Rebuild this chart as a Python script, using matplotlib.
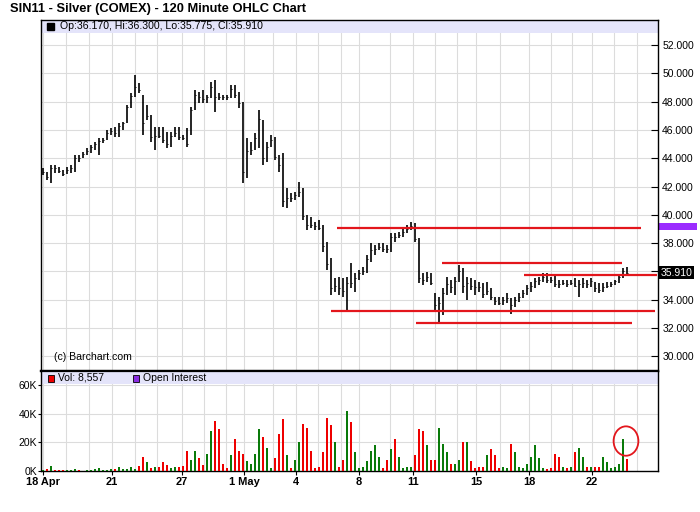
import numpy as np
import matplotlib
matplotlib.use('Agg')
import matplotlib.pyplot as plt
from matplotlib.patches import Rectangle, Ellipse

plt.rcParams['font.family'] = ['Liberation Sans', 'DejaVu Sans']

# --- 4-hour-ish OHLC bars (silver, SIN11) ---
highs = [
    43.28, 43.05, 43.52, 43.52, 43.40, 43.17, 43.40, 43.52, 44.23, 44.23,
    44.46, 44.70, 44.93, 45.17, 45.40, 45.40, 45.99, 46.11, 46.23, 46.47,
    46.58, 47.76, 48.59, 49.88, 49.29, 48.47, 47.76, 47.05, 46.23, 46.23,
    46.23, 45.88, 45.88, 46.23, 46.23, 45.64, 46.11, 47.64, 48.82, 48.70,
    48.82, 48.47, 49.41, 49.53, 48.58, 48.47, 48.47, 49.17, 49.17, 48.70,
    48.00, 45.40, 45.17, 45.76, 47.41, 46.70, 45.17, 45.64, 45.52, 44.23,
    44.34, 41.87, 41.52, 41.63, 42.34, 41.87, 39.99, 39.87, 39.51, 39.63,
    39.28, 38.10, 36.92, 35.51, 35.63, 35.51, 35.63, 36.57, 35.86, 36.10,
    36.33, 37.16, 37.98, 37.87, 37.98, 37.98, 37.87, 38.69, 38.69, 38.81,
    39.04, 39.28, 39.52, 39.40, 38.34, 35.86, 35.98, 35.86, 34.45, 34.22,
    34.80, 35.63, 35.39, 35.63, 36.45, 36.22, 35.63, 35.51, 35.39, 35.27,
    35.16, 35.27, 34.80, 34.21, 34.21, 34.21, 34.45, 34.10, 34.21, 34.45,
    34.69, 35.04, 35.27, 35.51, 35.63, 35.86, 35.86, 35.63, 35.75, 35.39,
    35.39, 35.39, 35.39, 35.51, 35.39, 35.51, 35.39, 35.51, 35.27, 35.16,
    35.16, 35.27, 35.27, 35.39, 35.75, 36.22, 36.30]
lows = [
    42.81, 42.46, 42.22, 42.93, 42.93, 42.77, 42.86, 42.93, 43.05, 43.75,
    43.99, 44.23, 44.34, 44.58, 44.23, 45.05, 45.29, 45.64, 45.52, 45.52,
    45.99, 46.47, 47.52, 48.35, 48.59, 45.64, 46.70, 45.17, 44.58, 45.40,
    45.05, 44.70, 44.82, 45.52, 45.29, 45.29, 44.82, 45.64, 47.41, 47.88,
    47.88, 47.88, 48.23, 47.29, 48.11, 48.11, 48.11, 48.23, 48.23, 47.52,
    42.22, 42.58, 44.23, 44.58, 44.70, 43.52, 43.76, 44.82, 43.87, 43.05,
    40.58, 40.46, 40.93, 41.05, 41.28, 39.63, 38.93, 39.04, 38.93, 38.93,
    37.39, 36.10, 34.33, 34.57, 34.33, 34.22, 33.15, 34.80, 34.57, 35.39,
    35.75, 35.86, 36.69, 37.16, 37.51, 37.39, 37.28, 37.39, 38.10, 38.34,
    38.45, 38.69, 38.93, 38.10, 35.16, 35.04, 35.27, 35.04, 33.30, 32.45,
    32.90, 34.33, 34.45, 34.33, 35.27, 34.45, 33.98, 34.69, 34.33, 34.57,
    34.10, 34.33, 33.98, 33.63, 33.63, 33.63, 33.74, 33.00, 33.51, 33.86,
    34.10, 34.33, 34.57, 34.80, 35.04, 35.27, 35.16, 35.16, 34.92, 34.80,
    35.04, 34.92, 35.04, 34.92, 34.21, 34.80, 34.80, 34.92, 34.57, 34.45,
    34.57, 34.80, 34.92, 35.04, 35.16, 35.51, 35.775]
closes = [
    43.0, 42.7, 43.3, 43.3, 43.1, 42.9, 43.2, 43.3, 44.0, 44.0,
    44.3, 44.5, 44.8, 45.0, 45.2, 45.3, 45.8, 45.9, 45.8, 46.3,
    46.5, 47.6, 48.4, 49.0, 48.8, 46.5, 47.0, 45.5, 45.6, 45.6,
    45.3, 45.0, 45.6, 45.8, 45.5, 45.4, 45.0, 47.4, 48.5, 48.3,
    48.2, 48.3, 49.0, 48.3, 48.3, 48.3, 48.3, 48.9, 48.5, 47.9,
    43.0, 44.5, 44.6, 45.4, 46.8, 44.0, 44.8, 45.3, 44.1, 43.5,
    41.0, 41.2, 41.2, 41.4, 41.6, 39.9, 39.3, 39.3, 39.2, 39.1,
    37.8, 36.5, 34.8, 35.0, 34.8, 34.6, 35.2, 35.2, 35.5, 35.9,
    36.0, 36.9, 37.5, 37.6, 37.7, 37.6, 37.6, 38.4, 38.4, 38.6,
    38.8, 39.0, 39.2, 38.3, 35.5, 35.4, 35.6, 35.2, 33.6, 33.8,
    34.5, 35.1, 34.9, 35.3, 36.0, 35.0, 35.2, 35.0, 34.9, 34.9,
    34.4, 34.6, 34.2, 33.9, 33.8, 34.0, 34.1, 33.6, 34.0, 34.2,
    34.5, 34.8, 35.0, 35.3, 35.4, 35.6, 35.4, 35.4, 35.1, 35.1,
    35.2, 35.1, 35.2, 35.0, 35.1, 35.2, 35.1, 35.3, 34.8, 34.7,
    34.9, 35.0, 35.1, 35.3, 35.6, 36.0, 35.91]
# volume in thousands of contracts
volume_k = [
    1.0, 1.5, 3.5, 1.0, 0.5, 0.5, 0.5, 1.0, 1.2, 0.8,
    0.3, 0.5, 1.0, 1.5, 2.0, 0.8, 1.0, 1.2, 1.5, 3.0,
    1.5, 1.2, 3.0, 1.5, 3.5, 10.0, 6.0, 2.0, 2.5, 3.0,
    6.0, 4.0, 2.0, 2.5, 3.0, 3.5, 14.0, 8.0, 14.0, 9.0,
    4.0, 12.0, 28.0, 35.0, 29.0, 5.0, 2.0, 11.0, 22.0, 14.0,
    12.0, 7.0, 5.0, 12.0, 29.0, 24.0, 16.0, 2.0, 9.0, 26.0,
    36.0, 11.0, 2.0, 8.0, 20.0, 33.0, 30.0, 14.0, 2.0, 2.5,
    13.0, 37.0, 32.0, 20.0, 3.0, 8.0, 42.0, 34.0, 13.0, 2.0,
    2.5, 7.0, 14.0, 18.0, 10.0, 2.0, 8.0, 15.0, 22.0, 10.0,
    2.0, 2.5, 3.0, 11.0, 29.0, 28.0, 18.0, 8.0, 8.0, 30.0,
    19.0, 13.0, 5.0, 5.0, 8.0, 20.0, 20.0, 7.0, 2.0, 3.0,
    3.0, 11.0, 15.0, 11.0, 2.0, 3.0, 2.0, 19.0, 13.0, 3.0,
    2.0, 5.0, 10.0, 18.0, 9.0, 2.0, 1.5, 2.0, 12.0, 10.0,
    3.0, 2.0, 3.0, 13.0, 16.0, 10.0, 3.0, 2.5, 3.0, 3.0,
    10.0, 6.0, 2.0, 2.5, 5.0, 22.0, 8.557]

# session grid lines (bar index) and date labels
day_lines = [0.07, 5.8, 11.6, 17.3, 23.1, 28.6, 34.8, 40.3, 45.8, 50.3,
             57.6, 63.3, 68.8, 74.6, 79.1, 86.8, 92.6, 98.1, 103.6, 108.3,
             114.3, 121.6, 127.1, 132.3, 137.3, 142.8, 148.6]
date_pos = [0.07, 17.3, 34.8, 50.3, 63.3, 79.1, 92.6, 108.3, 121.6, 137.3]
date_labels = ['18 Apr', '21', '27', '1 May', '4', '8', '11', '15', '18', '22']

price_ticks = [30, 32, 34, 36, 38, 40, 42, 44, 46, 48, 50, 52]
vol_ticks = [0, 20, 40, 60]
vol_labels = ['0K', '20K', '40K', '60K']

# hand drawn support / resistance lines
level_price = [39.05, 36.57, 35.77, 33.22, 32.37]
level_start = [73.6, 99.8, 120.3, 72.1, 93.3]
level_end = [149.6, 144.8, 153.6, 153.1, 147.3]

last_ohlc = (36.170, 36.300, 35.775, 35.910)
last_volume = 8557
oi_level = (38.93, 39.42)

n = len(highs)
assert len(lows) == n and len(closes) == n and len(volume_k) == n
x = np.arange(n)

fig = plt.figure(figsize=(7, 5.12), dpi=100)
ax = fig.add_axes([41/700, 141/512, 617/700, 351/512])
axv = fig.add_axes([41/700, 41/512, 617/700, 100/512], sharex=ax)

grid_c = '#dcdcdc'
for d in day_lines:
    ax.axvline(d, color=grid_c, lw=0.8, zorder=0)
    axv.axvline(d, color=grid_c, lw=0.8, zorder=0)
for p in price_ticks:
    ax.axhline(p, color=grid_c, lw=0.8, zorder=0)
for v in vol_ticks[1:]:
    axv.axhline(v, color=grid_c, lw=0.8, zorder=0)

# price bars (close tick kept short, as on the original)
ax.vlines(x, lows, highs, color='black', lw=1.2, zorder=3)
ax.hlines(closes, x, x + 0.3, color='black', lw=0.7, zorder=3)

# support / resistance
ax.hlines(level_price, level_start, level_end, color='#e3161c', lw=1.6, zorder=5)

ax.set_xlim(-0.43, 153.8)
ax.set_ylim(28.96, 53.77)

# legend band
ax.add_patch(Rectangle((0, 0.963), 1, 0.037, transform=ax.transAxes,
                       fc='#e4e4fa', ec='none', zorder=1))
ax.add_patch(Rectangle((0.0097, 0.9715), 0.0113, 0.02, transform=ax.transAxes,
                       fc='black', ec='black', zorder=6))
ax.text(0.0308, 0.9815, 'Op:%.3f, Hi:%.3f, Lo:%.3f, Cl:%.3f' % last_ohlc,
        transform=ax.transAxes, fontsize=7.6, va='center', ha='left', zorder=6)
ax.text(0.021, 0.04, '(c) Barchart.com', transform=ax.transAxes,
        fontsize=7.6, va='center', ha='left')

ax.yaxis.tick_right()
ax.set_yticks(price_ticks)
ax.set_yticklabels(['' if p == 36 else '%.3f' % p for p in price_ticks])
ax.tick_params(axis='y', direction='in', length=5, labelsize=7.5, pad=3)
ax.tick_params(axis='x', bottom=False, labelbottom=False)

# last price box and open interest marker on the right scale
ax.text(1.004, last_ohlc[3], '%.3f' % last_ohlc[3], transform=ax.get_yaxis_transform(),
        fontsize=7.5, color='white', va='center', ha='left', clip_on=False,
        bbox=dict(boxstyle='square,pad=0.15', fc='black', ec='none'))
ax.add_patch(Rectangle((1.0, oi_level[0]), 0.063, oi_level[1] - oi_level[0],
                       transform=ax.get_yaxis_transform(), fc='#9b2cff', ec='none',
                       clip_on=False))

for s in ax.spines.values():
    s.set_linewidth(1.0)
ax.spines['bottom'].set_linewidth(1.6)

# volume
vol_colors = ['#0a7a0a'] + ['#0a7a0a' if closes[i] > closes[i - 1] else '#ee0000'
                            for i in range(1, n)]
axv.bar(x, volume_k, width=0.5, color=vol_colors, linewidth=0, zorder=3)
axv.set_ylim(0, 69.76)
axv.add_patch(Rectangle((0, 0.87), 1, 0.13, transform=axv.transAxes,
                        fc='#e4e4fa', ec='none', zorder=1))
axv.add_patch(Rectangle((0.0113, 0.895), 0.0097, 0.07, transform=axv.transAxes,
                        fc='#ee0000', ec='black', lw=0.6, zorder=6))
axv.text(0.0276, 0.93, 'Vol: {:,}'.format(last_volume), transform=axv.transAxes,
         fontsize=7.5, va='center', ha='left', zorder=6)
axv.add_patch(Rectangle((0.149, 0.895), 0.0097, 0.07, transform=axv.transAxes,
                        fc='#8a2be2', ec='black', lw=0.6, zorder=6))
axv.text(0.1653, 0.93, 'Open Interest', transform=axv.transAxes,
         fontsize=7.5, va='center', ha='left', zorder=6)

axv.add_patch(Ellipse((145.8, 20.9), 6.2, 20.5, fill=False, ec='#e3161c', lw=1.3,
                      zorder=6, clip_on=False))

axv.set_yticks(vol_ticks)
axv.set_yticklabels(vol_labels)
axv.tick_params(axis='y', direction='out', length=2, labelsize=7.5, pad=1)
axv.set_xticks(date_pos)
axv.set_xticklabels(date_labels, fontweight='bold')
axv.tick_params(axis='x', direction='out', length=3, labelsize=7.9, pad=1)
for s in axv.spines.values():
    s.set_linewidth(1.0)
axv.spines['top'].set_linewidth(1.6)

fig.text(10/700, 1 - 9/512, 'SIN11 - Silver (COMEX) - 120 Minute OHLC Chart',
         fontsize=9.3, fontweight='bold', va='center', ha='left')

fig.savefig('out.png', dpi=100)
